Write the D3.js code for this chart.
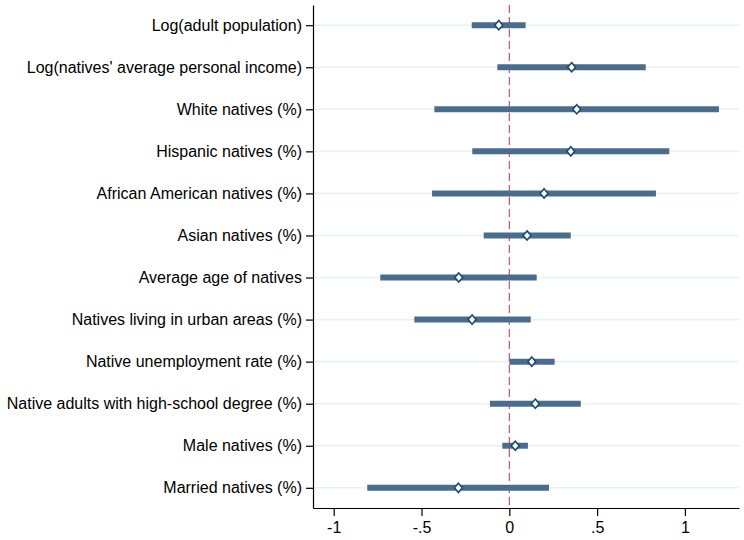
<!DOCTYPE html>
<html>
<head>
<meta charset="utf-8">
<script src="https://cdn.jsdelivr.net/npm/d3@7"></script>
<style>
  body { margin: 0; background: #fff; }
  text { font-family: "Liberation Sans", Arial, sans-serif; fill: #000; }
</style>
</head>
<body>
<div id="chart"></div>
<script>
// coefficient estimates with confidence intervals, one row per variable
var labels = [
	"Log(adult population)",
	"Log(natives' average personal income)",
	"White natives (%)",
	"Hispanic natives (%)",
	"African American natives (%)",
	"Asian natives (%)",
	"Average age of natives",
	"Natives living in urban areas (%)",
	"Native unemployment rate (%)",
	"Native adults with high-school degree (%)",
	"Male natives (%)",
	"Married natives (%)"
];
var estimates = [-0.060, 0.355, 0.384, 0.350, 0.198, 0.101, -0.288, -0.212, 0.128, 0.148, 0.034, -0.290];
var lower     = [-0.214, -0.068, -0.427, -0.211, -0.440, -0.146, -0.735, -0.541, 0.000, -0.110, -0.040, -0.809];
var upper     = [0.093, 0.777, 1.194, 0.911, 0.835, 0.350, 0.156, 0.122, 0.258, 0.407, 0.106, 0.226];
var xTicks = [-1, -0.5, 0, 0.5, 1];
var xTickLabels = ["-1", "-.5", "0", ".5", "1"];

var w = 744;
var h = 540;
var margin = {left: 313, right: 5, top: 5, bottom: 32};

var data = labels.map(function(d, i) {
	return {label: d, est: estimates[i], lo: lower[i], hi: upper[i]};
});

var svg = d3.select('#chart')
	.append('svg')
	.attr('width', w)
	.attr('height', h);

var xscale = d3.scaleLinear()
	.domain([-1.118, 1.308])
	.range([margin.left, w - margin.right]);

var yscale = d3.scalePoint()
	.domain(labels)
	.range([margin.top, h - margin.bottom])
	.padding(0.48);

// light gridlines at each row
svg.append('g')
	.selectAll('line')
	.data(labels)
	.enter()
	.append('line')
	.attr('x1', margin.left)
	.attr('x2', w - margin.right)
	.attr('y1', d => yscale(d))
	.attr('y2', d => yscale(d))
	.attr('stroke', '#eaf1f3')
	.attr('stroke-width', 1.6);

// zero reference line
svg.append('line')
	.attr('x1', xscale(0))
	.attr('x2', xscale(0))
	.attr('y1', margin.top)
	.attr('y2', h - margin.bottom)
	.attr('stroke', '#c8506b')
	.attr('stroke-width', 1.2)
	.attr('stroke-dasharray', '8,4');

// confidence interval bars
svg.append('g')
	.selectAll('line')
	.data(data)
	.enter()
	.append('line')
	.attr('x1', d => xscale(d.lo))
	.attr('x2', d => xscale(d.hi))
	.attr('y1', d => yscale(d.label))
	.attr('y2', d => yscale(d.label))
	.attr('stroke', '#4a6d8e')
	.attr('stroke-width', 6);

// point estimates as diamonds
var diamond = 'M0,-4.6L4,0L0,4.6L-4,0Z';
svg.append('g')
	.selectAll('path')
	.data(data)
	.enter()
	.append('path')
	.attr('transform', d => 'translate(' + xscale(d.est) + ',' + yscale(d.label) + ')')
	.attr('d', diamond)
	.attr('fill', '#fff')
	.attr('stroke', '#1d476d')
	.attr('stroke-width', 1.6);

var xaxis = d3.axisBottom(xscale)
	.tickValues(xTicks)
	.tickFormat((d, i) => xTickLabels[i])
	.tickSize(8)
	.tickPadding(6)
	.tickSizeOuter(0);

var yaxis = d3.axisLeft(yscale)
	.tickSize(7)
	.tickPadding(4)
	.tickSizeOuter(0);

var gx = svg.append('g')
	.attr('transform', 'translate(0,' + (h - margin.bottom) + ')')
	.call(xaxis);

var gy = svg.append('g')
	.attr('transform', 'translate(' + margin.left + ',0)')
	.call(yaxis);

[gx, gy].forEach(function(g) {
	g.selectAll('path, line').attr('stroke', '#000').attr('stroke-width', 1.2);
	g.selectAll('text')
		.style('font-family', '"Liberation Sans", Arial, sans-serif')
		.style('font-size', '16px')
		.attr('fill', '#000');
});
</script>
</body>
</html>
